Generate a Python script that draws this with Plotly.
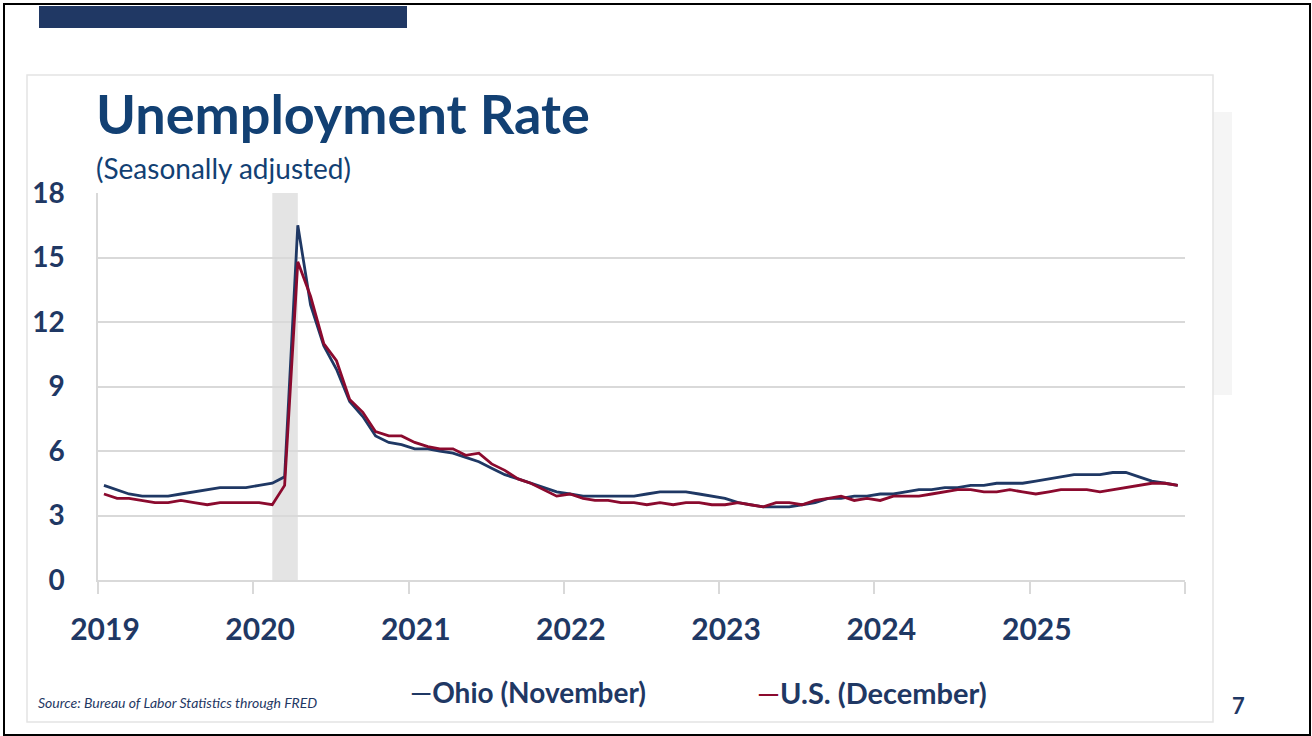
import plotly.graph_objects as go
import pandas as pd

# ---- data ----
months = pd.date_range("2019-01-01", "2025-12-01", freq="MS") + pd.Timedelta(days=14)
ohio = [4.4, 4.2, 4.0, 3.9, 3.9, 3.9, 4.0, 4.1, 4.2, 4.3, 4.3, 4.3,
        4.4, 4.5, 4.8, 16.5, 12.8, 10.9, 9.8, 8.3, 7.6, 6.7, 6.4, 6.3,
        6.1, 6.1, 6.0, 5.9, 5.7, 5.5, 5.2, 4.9, 4.7, 4.5, 4.3, 4.1,
        4.0, 3.9, 3.9, 3.9, 3.9, 3.9, 4.0, 4.1, 4.1, 4.1, 4.0, 3.9,
        3.8, 3.6, 3.5, 3.4, 3.4, 3.4, 3.5, 3.6, 3.8, 3.8, 3.9, 3.9,
        4.0, 4.0, 4.1, 4.2, 4.2, 4.3, 4.3, 4.4, 4.4, 4.5, 4.5, 4.5,
        4.6, 4.7, 4.8, 4.9, 4.9, 4.9, 5.0, 5.0, 4.8, 4.6, 4.5, 4.4]
us = [4.0, 3.8, 3.8, 3.7, 3.6, 3.6, 3.7, 3.6, 3.5, 3.6, 3.6, 3.6,
      3.6, 3.5, 4.4, 14.8, 13.2, 11.0, 10.2, 8.4, 7.8, 6.9, 6.7, 6.7,
      6.4, 6.2, 6.1, 6.1, 5.8, 5.9, 5.4, 5.1, 4.7, 4.5, 4.2, 3.9,
      4.0, 3.8, 3.7, 3.7, 3.6, 3.6, 3.5, 3.6, 3.5, 3.6, 3.6, 3.5,
      3.5, 3.6, 3.5, 3.4, 3.6, 3.6, 3.5, 3.7, 3.8, 3.9, 3.7, 3.8,
      3.7, 3.9, 3.9, 3.9, 4.0, 4.1, 4.2, 4.2, 4.1, 4.1, 4.2, 4.1,
      4.0, 4.1, 4.2, 4.2, 4.2, 4.1, 4.2, 4.3, 4.4, 4.5, 4.5, 4.4]
recession = ("2020-02-15", "2020-04-15")
year_ticks = ["2019-01-01", "2020-01-01", "2021-01-01", "2022-01-01",
              "2023-01-01", "2024-01-01", "2025-01-01", "2026-01-01"]
year_labels = ["2019", "2020", "2021", "2022", "2023", "2024", "2025", ""]
y_ticks = [0, 3, 6, 9, 12, 15, 18]

W, H = 1312, 736
NAVY = "#1F3864"
TITLE = "#124073"
RED = "#8B0A2E"
GRID = "#D9D9D9"
FONT = "Lato"

def px(x):
    return x / W

def py(y):
    return 1 - y / H

fig = go.Figure()
fig.add_trace(go.Scatter(x=months, y=ohio, mode="lines", name="Ohio (November)",
                         line=dict(color=NAVY, width=2.8)))
fig.add_trace(go.Scatter(x=months, y=us, mode="lines", name="U.S. (December)",
                         line=dict(color=RED, width=2.8)))

shapes = [
    # outer page border
    dict(type="rect", xref="paper", yref="paper", x0=px(4), x1=px(1310), y0=py(735), y1=py(4),
         line=dict(color="black", width=2), fillcolor="rgba(0,0,0,0)", layer="below"),
    # top navy bar
    dict(type="rect", xref="paper", yref="paper", x0=px(39), x1=px(407), y0=py(28), y1=py(6),
         line=dict(width=0), fillcolor="#203864", layer="below"),
    # faint ghost shape to right of panel
    dict(type="rect", xref="paper", yref="paper", x0=px(1213), x1=px(1232), y0=py(395), y1=py(112),
         line=dict(width=0), fillcolor="#F5F5F5", layer="below"),
    # panel
    dict(type="rect", xref="paper", yref="paper", x0=px(27), x1=px(1213), y0=py(722), y1=py(75),
         line=dict(color="#E4E4E4", width=1.5), fillcolor="white", layer="below"),
    # recession shading
    dict(type="rect", xref="x", yref="y", x0=recession[0], x1=recession[1], y0=0, y1=18,
         line=dict(width=0), fillcolor="#E4E4E4", layer="below"),
]

annotations = [
    dict(text="<b>Unemployment Rate</b>", x=px(94), y=py(114), xref="paper", yref="paper",
         xanchor="left", yanchor="middle", showarrow=False,
         font=dict(family=FONT, size=54, color=TITLE)),
    dict(text="(Seasonally adjusted)", x=px(94), y=py(168), xref="paper", yref="paper",
         xanchor="left", yanchor="middle", showarrow=False,
         font=dict(family=FONT, size=28, color=TITLE)),
    dict(text=f"<span style='color:{NAVY}'>—</span><b>Ohio (November)</b>", x=px(408), y=py(692),
         xref="paper", yref="paper", xanchor="left", yanchor="middle", showarrow=False,
         font=dict(family=FONT, size=28, color=NAVY)),
    dict(text=f"<span style='color:{RED}'>—</span><b>U.S. (December)</b>", x=px(755), y=py(692),
         xref="paper", yref="paper", xanchor="left", yanchor="middle", showarrow=False,
         font=dict(family=FONT, size=29, color=NAVY)),
    dict(text="<i>Source: Bureau of Labor Statistics through FRED</i>", x=px(36), y=py(702),
         xref="paper", yref="paper", xanchor="left", yanchor="middle", showarrow=False,
         font=dict(family=FONT, size=14, color=NAVY)),
    dict(text="<b>7</b>", x=px(1238), y=py(705), xref="paper", yref="paper",
         xanchor="center", yanchor="middle", showarrow=False,
         font=dict(family=FONT, size=22, color=NAVY)),
]

fig.update_layout(
    width=W, height=H,
    margin=dict(l=0, r=0, t=0, b=0, autoexpand=False),
    paper_bgcolor="white", plot_bgcolor="rgba(0,0,0,0)",
    showlegend=False,
    shapes=shapes,
    annotations=annotations,
    xaxis=dict(domain=[px(98), px(1185)], type="date", automargin=False,
               range=["2019-01-01", "2026-01-01"],
               tickvals=year_ticks, ticktext=year_labels,
               showgrid=False, zeroline=False,
               showline=True, linecolor=GRID, linewidth=1.5,
               ticks="outside", ticklen=12, tickcolor=GRID, tickwidth=1.5,
               ticklabelshift=7, ticklabelstandoff=10,
               tickfont=dict(family=FONT, size=30, color=NAVY, weight="bold")),
    yaxis=dict(domain=[py(580), py(193)], range=[0, 18], automargin=False,
               tickvals=y_ticks, ticktext=[str(v) for v in y_ticks],
               showgrid=True, gridcolor=GRID, gridwidth=1.5,
               zeroline=False, showline=True, linecolor=GRID, linewidth=1.5,
               ticks="", ticklabelstandoff=26,
               tickfont=dict(family=FONT, size=28, color=NAVY, weight="bold")),
)

fig.write_html("out.html", config={"displayModeBar": False},
               post_script="document.body.style.margin='0';")
